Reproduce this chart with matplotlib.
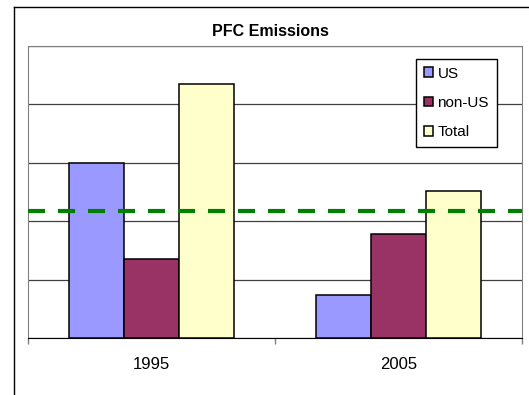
import numpy as np
import matplotlib.pyplot as plt
from matplotlib.lines import Line2D

plt.rcParams['font.family'] = ['Liberation Sans', 'DejaVu Sans']

# Data
years = ['1995', '2005']
us = [3.0, 0.74]
non_us = [1.36, 1.78]
total = [4.35, 2.51]
target_level = 2.17

series_names = ['US', 'non-US', 'Total']
series_colors = ['#9999FF', '#993366', '#FFFFCC']

fig = plt.figure(figsize=(5.29, 3.95), dpi=100)
ax = fig.add_axes([28 / 529, 1 - 338 / 395, 494 / 529, 292 / 395])

x = np.arange(len(years))
width = 0.224
for i, (vals, name, col) in enumerate(zip([us, non_us, total], series_names, series_colors)):
    ax.bar(x + (i - 1) * width, vals, width, color=col, edgecolor='black',
           linewidth=1.1, label=name, zorder=3)

# Horizontal reference level
ax.axhline(target_level, color='#008000', linewidth=3, dashes=(4.1, 3.1), zorder=4)

ax.set_xlim(-0.5, 1.5)
ax.set_ylim(0, 5)
ax.set_yticks(np.arange(0, 6))
ax.yaxis.grid(True, color='#404040', linewidth=0.9, zorder=0)
ax.tick_params(axis='y', left=False, labelleft=False)

ax.set_xticks(x)
ax.set_xticklabels(years, fontsize=12)
ax.set_xticks([-0.5, 0.5, 1.5], minor=True)
ax.tick_params(axis='x', which='major', length=0, pad=14)
ax.tick_params(axis='x', which='minor', length=4.5, color='#808080', width=1)

for s in ['left', 'right', 'top']:
    ax.spines[s].set_color('#808080')
ax.spines['bottom'].set_color('black')

fig.text(270 / 529, 1 - 31 / 395, 'PFC Emissions', fontsize=11.5, fontweight='bold',
         ha='center', va='center')

leg = ax.legend(loc='upper left', bbox_to_anchor=(416 / 529, 1 - 59 / 395),
                bbox_transform=fig.transFigure, fontsize=11, frameon=True,
                fancybox=False, edgecolor='black', framealpha=1,
                handlelength=0.6, handleheight=0.6, handletextpad=0.3,
                labelspacing=1.0, borderpad=0.5, borderaxespad=0)
leg.get_frame().set_linewidth(1)
leg.set_zorder(5)

# Outer chart border
fig.add_artist(Line2D([14 / 529, 14 / 529], [0, 1 - 7 / 395], color='black', linewidth=1,
                      transform=fig.transFigure))
fig.add_artist(Line2D([14 / 529, 1], [1 - 7 / 395, 1 - 7 / 395], color='black', linewidth=1,
                      transform=fig.transFigure))

fig.savefig('out.png', dpi=100)
